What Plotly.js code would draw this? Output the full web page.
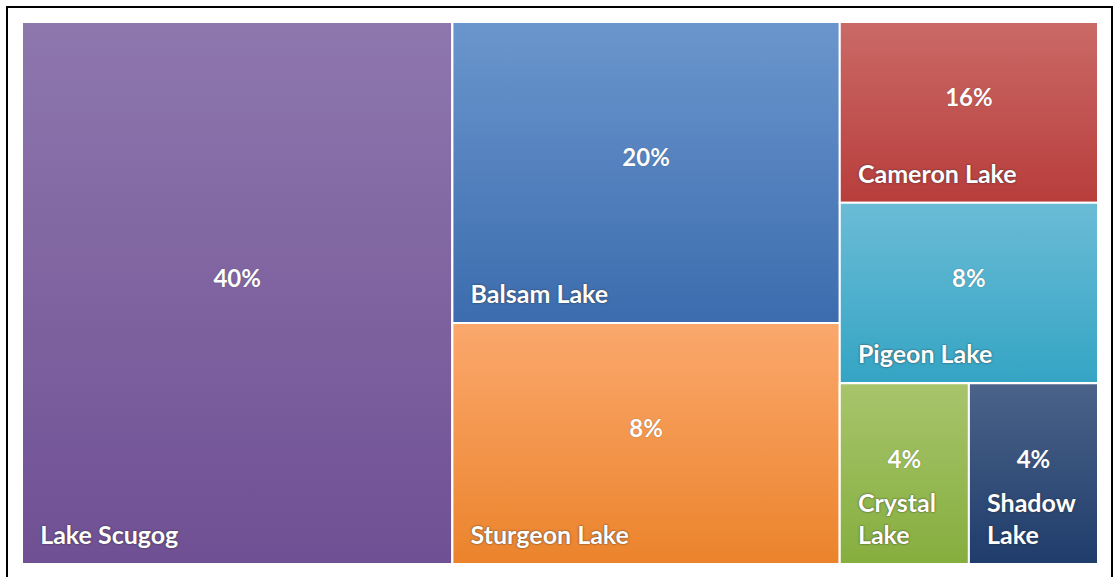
<!DOCTYPE html>
<html><head><meta charset="utf-8">
<script src="https://cdn.plot.ly/plotly-3.0.1.min.js"></script>
<style>
html,body{margin:0;padding:0;background:#fff;overflow:hidden;}
#wrap{position:relative;width:1115px;height:577px;}
#chart{width:1115px;height:577px;}
#frame{position:absolute;left:6px;top:6px;width:1103px;height:590px;border:2px solid #000;pointer-events:none;}
</style>
</head><body>
<div id="wrap"><div id="chart"></div><div id="frame"></div></div>
<script>
// ---- data ----
const lakes = ["Lake Scugog","Balsam Lake","Sturgeon Lake","Cameron Lake","Pigeon Lake","Crystal Lake","Shadow Lake"];
const lakeLabels = ["Lake Scugog","Balsam Lake","Sturgeon Lake","Cameron Lake","Pigeon Lake","Crystal<br>Lake","Shadow<br>Lake"];
const lakeValues = [40,20,16,8,8,4,4];
const percentLabels = ["40%","20%","8%","16%","8%","4%","4%"];
const lakeGroups = ["","G1","G1","G2","G2","G3","G3"];
const groupIds = ["G1","G2","G3"];
const groupParents = ["","","G2"];

// ---- styles ----
const topColors = ["#8e77ad","#6b96cd","#fba86d","#ca6a67","#6bbcd6","#a8c46c","#4b6389"];
const bottomColors = ["#6f5094","#3c6cae","#eb832b","#b83d3b","#34a4c4","#85ae3e","#1f3c6b"];
const midColors = ["#7f64a1","#5381be","#f3954c","#c15350","#50b0cd","#97b955","#354f7a"];
const labelShift = {x: 3, y: -12};

// build hierarchy
const ids = [], parents = [], values = [], labels = [], nameText = [], pctText = [], colors = [], clear = [];
const seen = {};
lakes.forEach((lk, i) => {
  const g = lakeGroups[i];
  if (g && !seen[g]) {
    seen[g] = true;
    ids.push(g); parents.push(groupParents[groupIds.indexOf(g)]); values.push(0);
    labels.push(""); nameText.push(""); pctText.push("");
    colors.push("rgba(0,0,0,0)"); clear.push("rgba(0,0,0,0)");
  }
  ids.push(lk); parents.push(g); values.push(lakeValues[i]);
  labels.push(lk);
  nameText.push("\u00a0\u00a0" + lakeLabels[i].replace("<br>", "<br>\u00a0\u00a0"));
  pctText.push(percentLabels[i] + "<br>\u00a0");
  colors.push(midColors[i]); clear.push("rgba(0,0,0,0)");
});

const common = {
  type: "treemap", ids: ids, parents: parents, values: values, labels: labels,
  branchvalues: "remainder", sort: false,
  tiling: {packing: "slice-dice", pad: 0},
  pathbar: {visible: false},
  domain: {x: [0, 1], y: [0, 1]},
  texttemplate: "%{text}",
  leaf: {opacity: 1},
  root: {color: "rgba(0,0,0,0)"}
};

const traceTiles = Object.assign({}, common, {
  text: nameText,
  marker: {colors: colors, line: {color: "#ffffff", width: 2}, pad: {t: 0, l: 0, r: 0, b: 0}},
  textposition: "bottom left",
  textfont: {family: "Lato, 'Open Sans', sans-serif", size: 25, color: "#ffffff", weight: "bold",
             shadow: "0px 0px 2px rgba(40,40,40,0.9)"},
  hovertemplate: "%{label}: %{value}<extra></extra>"
});

const tracePct = Object.assign({}, common, {
  text: pctText,
  marker: {colors: clear, line: {color: "rgba(0,0,0,0)", width: 0}, pad: {t: 0, l: 0, r: 0, b: 0}},
  textposition: "middle center",
  textfont: {family: "Lato, 'Open Sans', sans-serif", size: 24, color: "#ffffff", weight: "bold",
             shadow: "0px 0px 1px rgba(40,40,40,0.5)"},
  hoverinfo: "none"
});

const layout = {
  width: 1115, height: 577,
  margin: {l: 22, r: 17, t: 22, b: 13},
  paper_bgcolor: "#ffffff",
  showlegend: false
};

Plotly.newPlot("chart", [traceTiles, tracePct], layout, {displayModeBar: false}).then(gd => {
  const svg = gd.querySelector(".main-svg");
  const defs = svg.querySelector("defs");
  const NS = "http://www.w3.org/2000/svg";
  lakes.forEach((lk, i) => {
    const lg = document.createElementNS(NS, "linearGradient");
    lg.setAttribute("id", "lakegrad" + i);
    lg.setAttribute("x1", "0"); lg.setAttribute("y1", "0");
    lg.setAttribute("x2", "0"); lg.setAttribute("y2", "1");
    const s1 = document.createElementNS(NS, "stop");
    s1.setAttribute("offset", "0"); s1.setAttribute("stop-color", topColors[i]);
    const s2 = document.createElementNS(NS, "stop");
    s2.setAttribute("offset", "1"); s2.setAttribute("stop-color", bottomColors[i]);
    lg.appendChild(s1); lg.appendChild(s2);
    defs.appendChild(lg);
  });
  const traces = gd.querySelectorAll(".treemaplayer > g.trace");
  if (traces.length) {
    traces[0].querySelectorAll("path.surface").forEach(p => {
      const d = p.__data__ || (p.parentNode && p.parentNode.__data__);
      const id = d && d.data && d.data.data ? d.data.data.id : null;
      const idx = lakes.indexOf(id);
      if (idx >= 0) p.style.fill = "url(#lakegrad" + idx + ")";
    });
    traces[0].querySelectorAll("g.slicetext text").forEach(t => {
      const tr = t.getAttribute("transform") || "";
      t.setAttribute("transform", "translate(" + labelShift.x + "," + labelShift.y + ")" + tr);
    });
  }
});
</script>
</body></html>
